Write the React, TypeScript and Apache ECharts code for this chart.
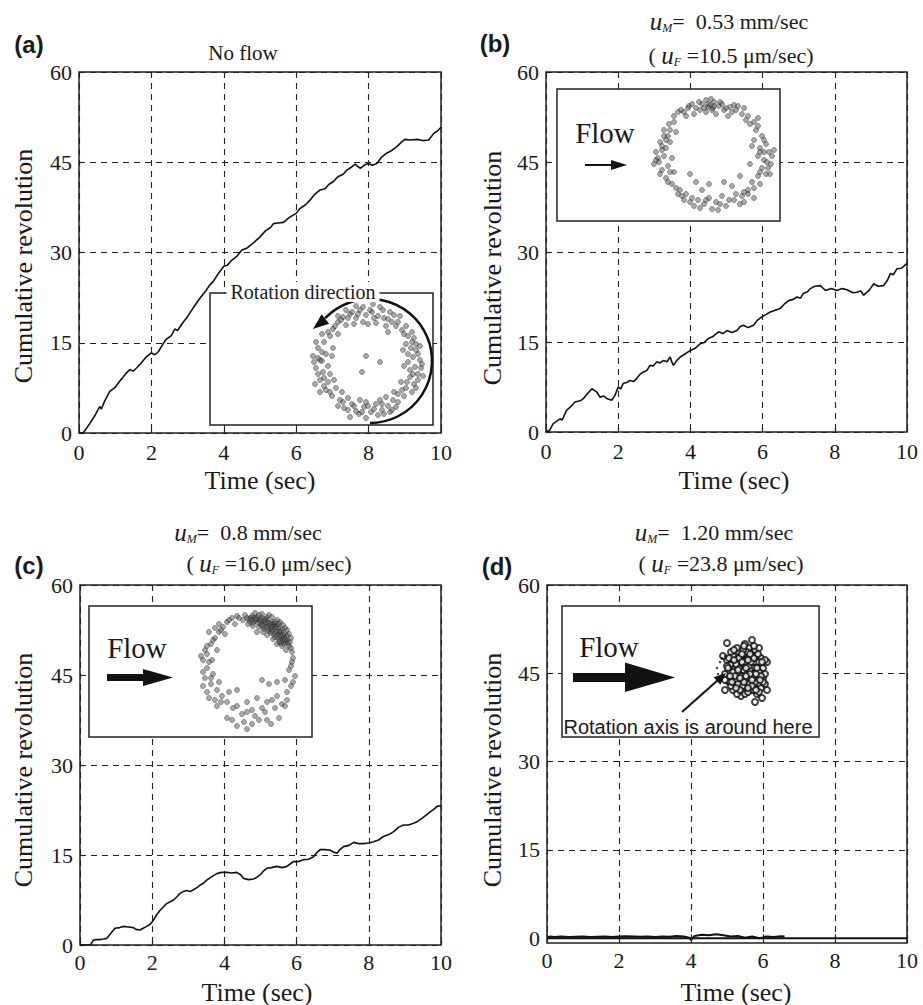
import React, { useEffect, useRef } from "react";
import * as echarts from "echarts";

// ---------- Data: cumulative revolution vs time ----------
const TIME_A = [0,0.1,0.15,0.3,0.45,0.57,0.62,0.7,0.85,1.0,1.15,1.3,1.4,1.5,1.59,1.7,1.85,2.0,2.1,2.19,2.3,2.4,2.55,2.65,2.72,2.85,2.97,3.1,3.2,3.34,3.5,3.6,3.71,3.85,4.0,4.1,4.2,4.35,4.5,4.63,4.8,5.0,5.15,5.3,5.37,5.5,5.65,5.8,6.0,6.1,6.25,6.38,6.5,6.66,6.8,6.9,7.03,7.15,7.3,7.4,7.55,7.63,7.7,7.77,7.9,8.0,8.1,8.23,8.35,8.5,8.65,8.78,8.9,9.0,9.15,9.34,9.5,9.66,9.75,9.8,9.9,10.0];
const REV_A = [0,0,0.3,1.6,3.0,4.4,4.0,5.2,6.9,7.6,8.8,9.9,10.5,10.3,10.8,11.5,12.6,13.3,13.0,13.5,14.6,15.5,16.2,17.3,17.0,18.2,19.1,20.3,21.2,22.4,23.6,24.5,25.2,26.5,27.7,27.9,28.6,29.3,30.4,30.7,31.5,32.6,33.6,34.2,34.8,34.9,35.0,35.8,36.5,37.3,37.9,38.7,39.6,40.4,40.6,41.3,41.8,42.6,43.0,43.7,44.3,44.7,44.3,44.0,44.6,44.8,44.5,44.8,45.8,46.5,47.0,47.6,48.3,48.8,48.7,48.8,48.6,48.7,49.4,49.8,50.2,50.8];

const TIME_B = [0,0.1,0.2,0.3,0.39,0.45,0.57,0.7,0.8,0.95,1.04,1.15,1.27,1.35,1.4,1.5,1.6,1.68,1.82,1.91,2.0,2.07,2.14,2.25,2.33,2.42,2.51,2.6,2.7,2.8,2.88,2.97,3.07,3.15,3.25,3.35,3.44,3.49,3.53,3.62,3.72,3.85,4.0,4.12,4.27,4.38,4.5,4.62,4.78,4.9,5.01,5.15,5.29,5.38,5.47,5.6,5.75,5.85,5.98,6.1,6.21,6.35,6.49,6.6,6.72,6.85,6.95,7.05,7.13,7.25,7.32,7.45,7.6,7.67,7.74,7.9,8.06,8.2,8.34,8.5,8.61,8.72,8.8,8.95,9.08,9.2,9.35,9.45,9.54,9.62,9.72,9.85,10.0];
const REV_B = [0,0.3,1.4,1.8,2.2,2.0,3.6,4.3,5.0,5.2,5.6,6.4,7.2,6.9,6.7,5.8,6.0,5.6,5.3,6.1,7.5,7.2,8.1,8.3,8.6,8.4,8.9,9.6,10.0,10.3,11.1,11.0,11.7,11.5,11.9,11.7,12.5,11.6,11.1,11.9,12.5,13.0,13.6,13.9,14.7,14.9,15.6,15.9,16.7,16.4,16.9,16.6,16.9,17.6,17.8,17.4,17.8,18.6,19.2,19.6,20.0,20.3,20.6,21.3,21.9,22.1,22.5,22.3,23.1,23.4,23.9,24.3,24.4,24.0,23.6,23.9,23.6,23.9,23.7,23.2,23.3,23.5,22.8,23.6,24.7,24.3,24.4,25.2,26.4,26.2,27.2,27.3,28.1];

const TIME_C = [0,0.25,0.3,0.37,0.45,0.55,0.65,0.74,0.85,0.97,1.1,1.2,1.35,1.48,1.55,1.66,1.75,1.85,1.95,2.03,2.12,2.22,2.3,2.4,2.5,2.59,2.68,2.77,2.86,2.96,3.05,3.14,3.25,3.33,3.42,3.51,3.65,3.79,3.92,4.07,4.2,4.34,4.45,4.53,4.67,4.81,4.9,4.99,5.08,5.18,5.3,5.45,5.6,5.73,5.82,5.91,6.05,6.19,6.33,6.47,6.56,6.65,6.8,6.93,7.02,7.12,7.2,7.3,7.45,7.58,7.72,7.86,8.0,8.13,8.27,8.41,8.55,8.69,8.82,8.96,9.1,9.24,9.35,9.47,9.58,9.7,9.8,9.89,10.0];
const REV_C = [0,0,0.1,0.8,0.9,0.9,1.0,1.1,1.9,2.8,2.9,3.1,3.0,2.9,2.6,2.5,2.8,3.1,3.5,4.1,5.0,5.8,6.3,6.9,7.2,7.5,8.0,8.6,8.9,9.1,8.9,9.2,9.6,10.0,10.3,10.8,11.4,11.9,12.1,12.1,12.0,12.1,11.7,11.1,10.9,11.0,11.3,11.7,12.3,12.8,12.9,13.1,12.9,13.1,13.5,13.9,13.9,14.2,14.3,14.7,15.4,15.9,15.9,15.8,15.5,15.3,15.9,16.4,16.6,17.1,16.9,16.9,17.0,17.2,17.5,18.1,18.4,18.9,19.6,20.0,20.0,20.3,20.6,21.1,21.6,22.2,22.6,23.1,23.2];

const TIME_D = [0,0.1,0.2,0.4,0.6,0.8,1.0,1.2,1.4,1.6,1.8,2.0,2.2,2.4,2.6,2.8,3.0,3.2,3.4,3.6,3.8,3.95,4.0,4.1,4.3,4.5,4.7,4.9,5.1,5.3,5.5,5.7,5.9,6.1,6.3,6.5,6.6];
const REV_D = [0.1,0.3,0.2,0.3,0.2,0.25,0.3,0.2,0.25,0.3,0.2,0.3,0.35,0.3,0.25,0.3,0.2,0.3,0.25,0.4,0.3,0.1,-0.3,0.4,0.6,0.5,0.7,0.5,0.3,0.4,0.1,0.3,0.0,0.3,0.2,0.35,0.3];
const TIME_D_BASE = [0, 10];
const REV_D_BASE = [0, 0];

// ---------- Inset trajectories (offset from inset centre, px units of inset axes) ----------
const INSET_A = [[-30,-40],[-25,-45],[-18,-48],[-12,-44],[-8,-52],[-2,-47],[4,-50],[10,-46],[15,-52],[20,-43],[26,-47],[-22,-37],[-14,-38],[0,-38],[8,-39],[18,-36],[30,-40],[-35,-33],[-5,-55],[12,-55],[-20,-44],[-16,-50],
  [34,-32],[40,-26],[44,-20],[38,-18],[48,-12],[45,-5],[52,-2],[40,-8],[47,5],[36,4],[50,12],[42,15],[46,22],[38,26],[33,20],[44,30],[30,32],[53,6],[35,-12],[48,-18],[42,8],[50,18],
  [25,38],[20,44],[14,48],[8,42],[3,50],[-4,45],[-9,52],[-14,44],[-20,48],[-25,40],[-30,44],[10,53],[-2,56],[18,35],[-8,38],[28,45],[-18,55],[14,42],[0,44],[-12,49],[22,50],
  [-36,34],[-42,28],[-40,20],[-48,18],[-45,10],[-52,6],[-40,4],[-48,-2],[-55,-6],[-42,-8],[-50,-14],[-44,-20],[-38,-26],[-46,-28],[-35,-14],[-38,12],[-53,22],[-32,26],[-46,-1],[-50,-4],[-44,24],
  [-27,-42],[-33,-36],[-10,-48],[6,-44],[22,-50],[28,-36],[36,-28],[43,-14],[50,-8],[54,2],[45,12],[39,20],[48,26],[36,34],[30,40],[24,48],[16,52],[6,47],[-6,50],[-16,42],[-24,46],[-28,38],[-38,30],[-44,16],[-50,12],[-54,0],[-46,-10],[-52,-20],[-40,-30],[-30,-46],[-22,-52],[2,-52],[16,-44],[24,-40],[38,-36],[46,-24],[52,-16],[40,0],[55,14],[34,28],[12,38],[-2,40],[-20,36],[-34,18],[-36,-6],[-30,-28],[-12,-56],[5,-58],[32,-46],[20,-30],[-26,30],[26,30],[-5,-40],[44,-30],[-48,30],
  [-2,-6],[-6,10],[12,0]];

const INSET_B = [[-40,-38],[-33,-44],[-25,-48],[-18,-46],[-12,-50],[-6,-47],[0,-52],[5,-48],[10,-44],[16,-47],[22,-44],[28,-40],[34,-38],[-28,-38],[-20,-40],[-8,-42],[2,-40],[14,-38],[-15,-52],[-3,-55],[40,-32],[-45,-30],[-10,-46],[-4,-49],[-1,-46],[8,-50],[20,-49],
  [42,-24],[48,-18],[52,-10],[46,-6],[55,-2],[50,6],[44,2],[57,10],[48,14],[52,20],[44,22],[38,28],[46,30],[40,-14],[36,10],[60,-4],[54,14],[50,-2],
  [34,36],[28,42],[22,40],[15,46],[8,42],[2,48],[-5,44],[-10,50],[-16,46],[-22,44],[-28,40],[-34,36],[12,52],[-2,55],[26,50],[-20,52],[18,32],[-12,36],[40,44],[34,40],[-30,46],
  [-42,30],[-48,24],[-52,16],[-46,12],[-55,8],[-50,2],[-58,-2],[-48,-6],[-54,-12],[-46,-18],[-50,-24],[-44,-12],[-40,18],[-38,-22],[-60,10],[-42,4],[-52,-4],[-56,4],
  [-36,-42],[-22,-50],[-8,-54],[6,-52],[18,-42],[30,-46],[36,-30],[44,-28],[50,-14],[58,2],[53,8],[46,18],[40,34],[30,38],[20,46],[6,50],[-8,46],[-24,48],[-32,42],[-38,34],[-46,28],[-54,20],[-58,6],[-52,-8],[-48,-14],[-44,-24],[-40,-32],[-30,-42],[-14,-44],[0,-48],[12,-46],[24,-48],[32,-34],[46,-2],[38,-8],[56,20],[-44,18],[-50,-18],[-36,40],[4,56],[-14,54],[30,48],[44,-36],[-26,-46],[-6,-50],[-2,-44],
  [-18,28],[-5,30],[10,28],[26,22],[-24,20]];

const INSET_C = [[0,-44],[5,-46],[10,-45],[15,-44],[20,-42],[25,-40],[30,-37],[35,-33],[38,-28],[40,-22],[42,-16],[3,-40],[8,-41],[13,-40],[18,-38],[23,-36],[28,-33],[32,-29],[35,-24],[37,-18],[6,-36],[12,-35],[17,-33],[22,-31],[27,-28],[31,-24],[34,-19],[10,-30],[20,-27],[26,-23],[30,-18],[-4,-42],[-8,-44],[15,-48],[25,-45],[33,-40],[40,-32],[44,-24],[-2,-47],[8,-49],[45,-10],[39,-12],
  [2,-43],[7,-44],[12,-42],[17,-41],[22,-39],[27,-37],[31,-34],[34,-30],[37,-25],[39,-20],[14,-37],[19,-35],[24,-33],[29,-30],[33,-27],[36,-22],[16,-30],[24,-29],[28,-25],[20,-45],[30,-42],[36,-37],[42,-28],[11,-39],[26,-38],
  [4,-44],[9,-43],[14,-42],[19,-40],[24,-38],[29,-35],[33,-31],[36,-27],[38,-23],[41,-19],[1,-38],[6,-39],[16,-36],[21,-33],[25,-31],[30,-27],[33,-22],[35,-16],[18,-43],[28,-40],[38,-34],[43,-20],[44,-14],[12,-47],[22,-47],[32,-38],[5,-42],[25,-35],[32,-20],[40,-26],
  [-15,-44],[-20,-40],[-24,-35],[-28,-30],[-32,-24],[-36,-18],[-22,-28],[-30,-12],[-40,-8],[-35,-2],[-44,-2],[-28,-38],[-12,-38],[-38,-30],
  [-18,-42],[-26,-32],[-34,-22],[-42,-12],[-38,0],[-44,10],[-36,16],[-40,-16],[-32,-34],[-10,-46],[-46,-6],
  [-40,6],[-34,12],[-42,16],[-36,22],[-30,28],[-40,30],[-25,34],[-32,38],[-20,40],[-28,20],[-44,24],[-38,36],[-30,44],[-26,40],
  [-10,44],[-5,52],[0,40],[5,48],[10,36],[15,46],[20,40],[25,38],[30,34],[35,42],[40,30],[-15,58],[-3,60],[5,62],[12,58],[20,58],[32,56],[38,44],[-20,56],[-14,46],[0,50],[8,54],[18,50],[28,46],[40,38],[24,62],[-10,64],[0,67],
  [45,0],[42,8],[48,14],[38,18],[44,24],[30,20],[46,-4],[46,20],[44,4],
  [-10,28],[22,22],[15,18],[-18,30]];

const INSET_D = [[-12,-14],[-6,-18],[0,-16],[6,-18],[12,-14],[-14,-6],[-8,-10],[-2,-10],[4,-12],[10,-8],[16,-4],[-16,2],[-10,-2],[-4,-4],[2,-4],[8,-2],[14,2],[-12,8],[-6,4],[0,2],[6,6],[12,8],[18,8],[-10,14],[-4,12],[2,10],[8,14],[14,14],[-6,18],[0,16],[6,20],[10,18],[-2,22],[4,-22],[-8,-22],[10,-20],[16,-12],[18,-2],[-18,-10],[-16,12],[16,18],[-12,20],[3,-6],[-3,6],[5,0],[-5,-6],[9,4],[-9,10],[0,-26],[14,-22],[-14,-18],[20,4],[-20,4],[12,24],[-4,26],[22,-8],[20,14],[-2,0],[0,8],[7,-14],[-7,14],
  [-4,-14],[4,-4],[-8,-4],[10,12],[-12,2],[14,-8],[-6,-12],[2,-18],[8,20],[-2,16],[-14,16],[16,6],[-18,-4],[6,-8],[-10,6],[12,-2],[-2,-20],[4,14],[0,-8],[-6,-2],[8,8],[-16,-12],[18,12],[0,24],[-8,24],[14,22],[20,-10],[-20,10],
  [-3,-8],[3,-10],[-9,-6],[9,-12],[-11,-10],[11,4],[-13,12],[7,16],[-5,20],[3,22],[13,-16],[-1,12],[5,4],[-7,0],[1,-2],[15,10],[-15,6],[-1,-24],[9,-24],[-11,-20],[17,-8],[-17,-2],[11,20],[-9,18],[5,-16],[-3,-16],[7,10],[-5,8],[1,6],[3,18],
  [-18,-27],[7,-30],[10,32],[17,28],[-20,20],[22,20],[-22,-14]];
const INSET_D_AXIS = [[-25,-8],[-23,-12],[-20,-14],[-28,-2],[-27,4],[-23,9],[-18,13],[-14,-8]];

const X_TICKS = [0, 2, 4, 6, 8, 10];
const Y_TICKS = [0, 15, 30, 45, 60];

const SERIF = "'Liberation Serif', 'Times New Roman', serif";
const SANS = "'Liberation Sans', Arial, sans-serif";
const INK = "#1a1a1a";

const zip = (a: number[], b: number[]) => a.map((v, i) => [v, b[i]]);

export default function App() {
  const ref = useRef<HTMLDivElement>(null);

  useEffect(() => {
    if (!ref.current) return;
    const chart = echarts.init(ref.current, null, { renderer: "svg" });

    const mainGrids = [
      { left: 79, top: 72, width: 362, height: 361 },
      { left: 546, top: 72, width: 361, height: 360 },
      { left: 80, top: 585, width: 361, height: 360 },
      { left: 547, top: 585, width: 360, height: 358 },
    ].map((g) => ({ ...g, show: true, borderColor: "#222", borderWidth: 1.5, backgroundColor: "transparent" }));

    const insetDefs = [
      { cx: 368, cy: 362, r: 60 },
      { cx: 714, cy: 154, r: 66 },
      { cx: 247, cy: 662, r: 70 },
      { cx: 745, cy: 670, r: 40 },
    ];
    const insetGrids = insetDefs.map((d) => ({ left: d.cx - d.r, top: d.cy - d.r, width: 2 * d.r, height: 2 * d.r, show: false }));

    const mainX = (i: number) => ({
      type: "value", gridIndex: i, min: X_TICKS[0], max: X_TICKS[X_TICKS.length - 1], interval: 2,
      axisLine: { show: false },
      axisTick: { show: true, inside: true, length: 4, lineStyle: { color: "#222", width: 1.2 } },
      axisLabel: { color: INK, fontFamily: SERIF, fontSize: 22, margin: i >= 2 ? 6 : 8 },
      splitLine: { show: true, lineStyle: { color: "#222", type: [6, 5], width: 1.1 } },
    });
    const mainY = (i: number) => {
      const base: any = {
        type: "value", gridIndex: i, max: 60,
        axisLine: { show: false },
        axisTick: { show: true, inside: true, length: 4, lineStyle: { color: "#222", width: 1.2 } },
        axisLabel: { color: INK, fontFamily: SERIF, fontSize: 22, margin: 7 },
        splitLine: { show: true, lineStyle: { color: "#222", type: [6, 5], width: 1.1 } },
      };
      if (i === 3) {
        base.min = -0.8;
        base.axisTick.customValues = Y_TICKS;
        base.axisLabel.customValues = Y_TICKS;
      } else {
        base.min = 0;
        base.interval = 15;
      }
      return base;
    };
    const insetX = (i: number, r: number) => ({ type: "value", gridIndex: i, min: -r, max: r, show: false });
    const insetY = (i: number, r: number) => ({ type: "value", gridIndex: i, min: -r, max: r, inverse: true, show: false });

    const mkLine = (idx: number, data: number[][], w = 1.6) => ({
      type: "line", xAxisIndex: idx, yAxisIndex: idx, data, symbol: "none", showSymbol: false,
      lineStyle: { color: "#111", width: w }, z: 3, silent: true,
    });
    const dotStyle = { color: "rgba(85,85,85,0.62)", borderColor: "rgba(20,20,20,0.7)", borderWidth: 0.7 };
    const mkScatter = (idx: number, data: number[][]) => ({
      type: "scatter", xAxisIndex: idx, yAxisIndex: idx, data, symbolSize: 5, itemStyle: dotStyle, z: 60, silent: true,
    });

    const T = (x: number, y: number, text: string, size: number, extra: any = {}, family = SERIF, rotation = 0) => ({
      type: "text", x, y, z: 80, rotation,
      style: { text, fontSize: size, fontFamily: family, fill: INK, textAlign: "center", textVerticalAlign: "middle", ...extra },
    });
    const rich = {
      i: { fontFamily: SERIF, fontSize: 25, fontStyle: "italic", fill: INK },
      s: { fontFamily: SERIF, fontSize: 12, fontStyle: "italic", fill: INK, padding: [14, 0, 0, 0] },
      n: { fontFamily: SERIF, fontSize: 22, fill: INK },
    };
    const title = (x: number, y: number, sub: string, before: string, after: string) => ({
      type: "text", x, y, z: 80,
      style: { text: `{n|${before}}{i|u}{s|${sub}}{n|${after}}`, rich, textAlign: "center", textVerticalAlign: "middle" },
    });
    const rect = (x: number, y: number, w: number, h: number) => ({
      type: "rect", z: 50, shape: { x, y, width: w, height: h }, style: { fill: "#fff", stroke: "#222", lineWidth: 1.5 },
    });
    const poly = (pts: number[][]) => ({ type: "polygon", z: 75, shape: { points: pts }, style: { fill: "#111" } });
    const seg = (x1: number, y1: number, x2: number, y2: number, w: number) => ({
      type: "line", z: 75, shape: { x1, y1, x2, y2 }, style: { stroke: "#111", lineWidth: w },
    });
    const ROT = Math.PI / 2;

    const graphic = [
      // panel labels
      T(29, 44, "(a)", 24, { fontWeight: "bold" }, SANS),
      T(495, 43, "(b)", 24, { fontWeight: "bold" }, SANS),
      T(29, 565, "(c)", 24, { fontWeight: "bold" }, SANS),
      T(497, 566, "(d)", 24, { fontWeight: "bold" }, SANS),
      // titles
      T(243, 53, "No flow", 21),
      title(729, 21, "M", "", "=  0.53 mm/sec"),
      title(731, 55, "F", "( ", " =10.5 \u03bcm/sec)"),
      title(248, 532, "M", "", "=  0.8 mm/sec"),
      title(269, 563, "F", "( ", " =16.0 \u03bcm/sec)"),
      title(714, 532, "M", "", "=  1.20 mm/sec"),
      title(721, 563, "F", "( ", " =23.8 \u03bcm/sec)"),
      // axis names
      T(23, 266, "Cumulative revolution", 26, {}, SERIF, ROT),
      T(492, 268, "Cumulative revolution", 26, {}, SERIF, ROT),
      T(23, 770, "Cumulative revolution", 26, {}, SERIF, ROT),
      T(492, 770, "Cumulative revolution", 26, {}, SERIF, ROT),
      T(260, 480, "Time (sec)", 26),
      T(734, 480, "Time (sec)", 26),
      T(257, 992, "Time (sec)", 26),
      T(736, 992, "Time (sec)", 26),
      // inset (a)
      rect(210, 293, 223, 132),
      T(303, 292, "Rotation direction", 20, { backgroundColor: "#fff", padding: [0, 4, 0, 4] }),
      {
        type: "arc", z: 75,
        shape: { cx: 370, cy: 361, r: 62, startAngle: -2.38, endAngle: Math.PI / 2, clockwise: true },
        style: { stroke: "#111", lineWidth: 2.5, fill: "none" },
      },
      poly([[313, 329], [329.2, 323.7], [321.6, 314.3]]),
      // inset (b)
      rect(557, 89, 223, 132),
      T(605, 133, "Flow", 29),
      seg(585, 165, 614, 165, 2),
      poly([[611, 160], [627, 165], [611, 170]]),
      // inset (c)
      rect(89, 606, 223, 131),
      T(137, 648, "Flow", 29),
      { type: "rect", z: 75, shape: { x: 107, y: 674, width: 38, height: 7 }, style: { fill: "#111" } },
      poly([[143, 669], [173, 677.5], [143, 686]]),
      // inset (d)
      rect(562, 606, 257, 131),
      T(609, 647, "Flow", 29),
      { type: "rect", z: 75, shape: { x: 573, y: 673, width: 54, height: 9 }, style: { fill: "#111" } },
      poly([[625, 662.5], [675, 677.5], [625, 692]]),
      seg(682, 712, 718, 680, 2),
      poly([[726, 673], [720.3, 684.7], [713.7, 677.3]]),
      T(688, 727, "Rotation axis is around here", 20, {}, SANS),
    ];

    const option: any = {
      animation: false,
      backgroundColor: "#fff",
      grid: [...mainGrids, ...insetGrids],
      xAxis: [0, 1, 2, 3].map(mainX).concat(insetDefs.map((d, k) => insetX(4 + k, d.r) as any)),
      yAxis: [0, 1, 2, 3].map(mainY).concat(insetDefs.map((d, k) => insetY(4 + k, d.r) as any)),
      series: [
        mkLine(0, zip(TIME_A, REV_A)),
        mkLine(1, zip(TIME_B, REV_B)),
        mkLine(2, zip(TIME_C, REV_C)),
        mkLine(3, zip(TIME_D, REV_D), 2),
        mkLine(3, zip(TIME_D_BASE, REV_D_BASE), 2),
        mkScatter(4, INSET_A),
        mkScatter(5, INSET_B),
        mkScatter(6, INSET_C),
        {
          type: "scatter", xAxisIndex: 7, yAxisIndex: 7, data: INSET_D, symbol: "emptyCircle", symbolSize: 6,
          itemStyle: { color: "#111", borderColor: "#111", borderWidth: 1.3 }, z: 60, silent: true,
        },
        {
          type: "scatter", xAxisIndex: 7, yAxisIndex: 7, data: INSET_D_AXIS, symbolSize: 2.5,
          itemStyle: { color: "#111" }, z: 61, silent: true,
        },
      ],
      graphic,
    };

    chart.setOption(option);
    return () => chart.dispose();
  }, []);

  return (
    <div
      ref={ref}
      style={{ position: "absolute", left: 0, top: 0, width: 923, height: 1005, background: "#fff" }}
    />
  );
}
